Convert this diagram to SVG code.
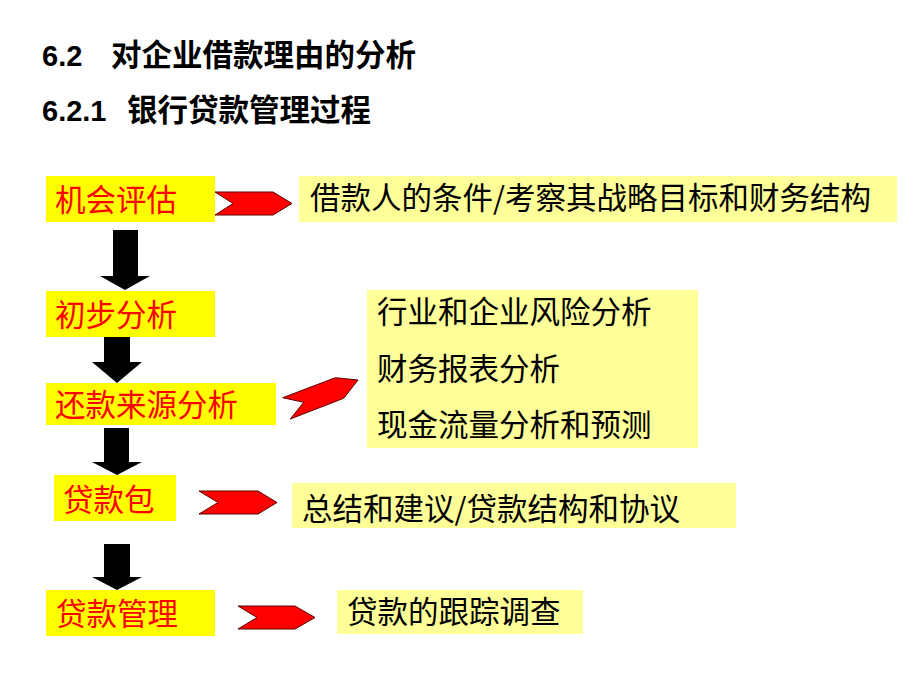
<svg xmlns="http://www.w3.org/2000/svg" width="920" height="690" viewBox="0 0 920 690">
<defs>
<style>
.title{font-family:"Noto Sans CJK SC","Liberation Sans",sans-serif;font-size:30.5px;font-weight:bold;fill:#000}
.num{font-family:"Liberation Sans",sans-serif;font-size:29px;font-weight:bold;fill:#000}
.step{fill:#FFFF00}
.note{fill:#FFFF99}
.st{font-family:"Noto Sans CJK SC",sans-serif;font-size:30.5px;fill:#FF0000}
.nt{font-family:"Noto Sans CJK SC","Liberation Sans",sans-serif;font-size:30.5px;fill:#000}
.down{fill:#000}
.chev{fill:#FF0000;stroke:#5a0000;stroke-width:1}
</style>
</defs>
<rect width="920" height="690" fill="#fff"/>
<g id="title">
<text class="num" x="42" y="66">6.2</text>
<text class="title" x="111" y="66">对企业借款理由的分析</text>
<text class="num" x="42" y="121">6.2.1</text>
<text class="title" x="127" y="121">银行贷款管理过程</text>
</g>
<g id="connectors">
<path class="down" d="M113,230 H138 V276 H150 L125,290 L100,276 H113 Z"/>
<path class="down" d="M104,337 H130 V362 H142 L117,383 L92,362 H104 Z"/>
<path class="down" d="M104,428 H129 V462 H142 L117,475 L92,462 H104 Z"/>
<path class="down" d="M104,544 H130 V577 H142 L117,590 L92,577 H104 Z"/>
<path class="chev" d="M215,192 H273 L292,203.5 L273,215 H215 L233,203.5 Z"/>
<path class="chev" d="M282.7,397.7 L335.3,377.7 L358,380 L343.7,398.3 L290.3,419 L303.7,402.3 Z"/>
<path class="chev" d="M199,491 H258 L277,502.5 L258,514 H199 L218,502.5 Z"/>
<path class="chev" d="M238,606 H295 L315,617.5 L295,629 H238 L257,617.5 Z"/>
</g>
<g id="step1">
<rect class="step" x="46" y="176" width="169" height="46"/>
<text class="st" x="55" y="211">机会评估</text>
</g>
<g id="step2">
<rect class="step" x="46" y="291" width="169" height="46"/>
<text class="st" x="55" y="326">初步分析</text>
</g>
<g id="step3">
<rect class="step" x="46" y="383" width="230" height="42"/>
<text class="st" x="55" y="416">还款来源分析</text>
</g>
<g id="step4">
<rect class="step" x="54" y="475" width="122" height="46"/>
<text class="st" x="63" y="511">贷款包</text>
</g>
<g id="step5">
<rect class="step" x="46" y="590" width="169" height="46"/>
<text class="st" x="56" y="625">贷款管理</text>
</g>
<g id="note1">
<rect class="note" x="299" y="176" width="598" height="46"/>
<text class="nt" x="310" y="209">借款人的条件/考察其战略目标和财务结构</text>
</g>
<g id="note2">
<rect class="note" x="367" y="290" width="331" height="158"/>
<text class="nt" x="377" y="323">行业和企业风险分析</text>
<text class="nt" x="377" y="380">财务报表分析</text>
<text class="nt" x="377" y="436">现金流量分析和预测</text>
</g>
<g id="note3">
<rect class="note" x="292" y="483" width="444" height="45"/>
<text class="nt" x="302" y="520">总结和建议/贷款结构和协议</text>
</g>
<g id="note4">
<rect class="note" x="337" y="590" width="246" height="44"/>
<text class="nt" x="347" y="623">贷款的跟踪调查</text>
</g>
</svg>
